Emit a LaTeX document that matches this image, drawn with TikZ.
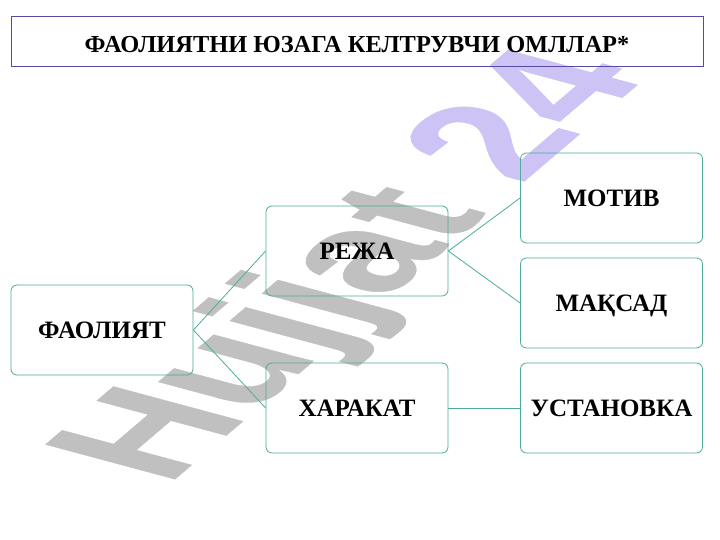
\documentclass[tikz,border=0pt]{standalone}
\usepackage{fontspec}
\setmainfont{Liberation Serif}
\newfontfamily\wmfont[BoldFeatures={FakeBold=0.3}]{Liberation Sans}
\definecolor{tealline}{RGB}{78,172,152}
\definecolor{titleborder}{RGB}{85,75,165}
\definecolor{wmgrey}{RGB}{192,192,192}
\definecolor{wmlav}{RGB}{205,195,245}
\begin{document}
\begin{tikzpicture}[x=1pt,y=-1pt,
  box/.style={draw=tealline, line width=0.8pt, rounded corners=6pt,
    minimum width=182pt, minimum height=90pt, inner sep=0pt,
    text height=16.5pt, text depth=0pt,
    font=\fontsize{25}{25}\selectfont\bfseries},
  link/.style={draw=tealline, line width=0.8pt},
  titlebox/.style={draw=titleborder, line width=1pt,
    minimum width=692pt, minimum height=50pt, inner sep=0pt,
    text height=22pt, text depth=0pt,
    font=\fontsize{24.4}{24.4}\selectfont\bfseries},
  wmark/.style={anchor=base west, inner sep=0pt, transform shape,
    font=\wmfont\bfseries\fontsize{100}{100}\selectfont}]
\useasboundingbox (0,0) rectangle (720,540);
\fill[white] (0,0) rectangle (720,540);
% watermark
\begin{scope}[shift={(167,486)}, cm={1.155,0.985,-1.88,0.505,(0,0)}]
  \node[wmark] (wm) at (0,0) {\textcolor{wmgrey}{Hujjat}\textcolor{wmlav}{\ 24}};
\end{scope}
% title
\node[titlebox] (title) at (357,42) {ФАОЛИЯТНИ ЮЗАГА КЕЛТРУВЧИ ОМЛЛАР*};
% boxes
\node[box] (fa) at (102,330) {ФАОЛИЯТ};
\node[box] (re) at (357,251) {РЕЖА};
\node[box] (ha) at (357,408) {ХАРАКАТ};
\node[box] (mo) at (611.5,198) {МОТИВ};
\node[box] (ma) at (611.5,303) {МАҚСАД};
\node[box] (us) at (611.5,408) {УСТАНОВКА};
% connectors
\draw[link] (fa.east) -- (re.west);
\draw[link] (fa.east) -- (ha.west);
\draw[link] (re.east) -- (mo.west);
\draw[link] (re.east) -- (ma.west);
\draw[link] (ha.east) -- (us.west);
\end{tikzpicture}
\end{document}
